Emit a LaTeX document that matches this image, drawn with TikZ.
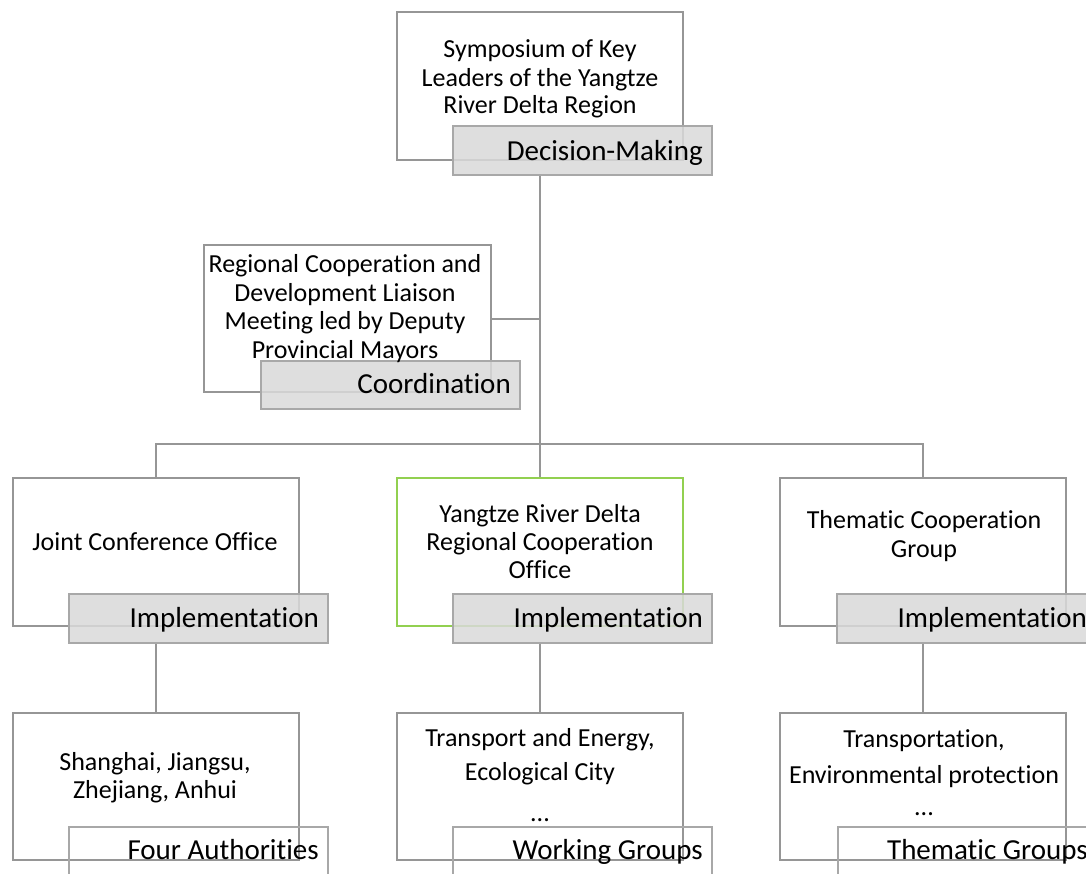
\documentclass[tikz,border=0pt]{standalone}
\usepackage{fontspec}
\setmainfont{Carlito}[Ligatures=NoCommon]
\definecolor{linegray}{RGB}{150,150,150}
\definecolor{taggray}{RGB}{168,168,168}
\definecolor{tagfill}{RGB}{217,217,217}
\definecolor{leafgreen}{RGB}{146,208,80}
\begin{document}
\begin{tikzpicture}[x=1pt,y=-1pt,
  box/.style={draw=linegray, line width=2pt, fill=white, inner sep=0pt,
    minimum width=286pt, minimum height=148pt},
  tag/.style={draw=taggray, line width=1.8pt, fill=tagfill, fill opacity=0.85,
    inner sep=0pt, minimum width=259pt, minimum height=49pt},
  opentag/.style={draw=taggray, line width=1.8pt, inner sep=0pt,
    minimum width=259pt, minimum height=49pt},
  txt/.style={font=\fontsize{26}{31}\selectfont, anchor=base, inner sep=0pt},
  tagtxt/.style={font=\fontsize{29}{34}\selectfont, anchor=base east, inner sep=0pt},
  link/.style={draw=linegray, line width=2pt}]
\useasboundingbox (0,0) rectangle (1086,873);
\clip (0,0) rectangle (1086,873);

% boxes
\node[box] (topbox) at (540,86) {};
\node[box, minimum width=287pt, minimum height=147pt] (coordbox) at (347.5,318.5) {};
\node[box] (leftbox) at (156,552) {};
\node[box, draw=leafgreen] (midbox) at (540,552) {};
\node[box] (rightbox) at (923,552) {};
\node[box, minimum height=147pt] (leftsub) at (156,786.5) {};
\node[box, minimum height=147pt] (midsub) at (540,786.5) {};
\node[box, minimum height=147pt] (rightsub) at (923,786.5) {};

% tags
\node[tag] (dectag) at (582.5,150.5) {};
\node[tag, minimum height=48pt] (coordtag) at (390.5,385) {};
\node[tag] (lefttag) at (198.5,618.5) {};
\node[tag] (midtag) at (582.5,618.5) {};
\node[tag] (righttag) at (966.5,618.5) {};
\node[opentag] (leftsubtag) at (198.5,851.5) {};
\node[opentag] (midsubtag) at (582.5,851.5) {};
\node[opentag] (rightsubtag) at (967.5,851.5) {};

% connectors
\coordinate (bar) at (540,444);
\draw[link] (topbox.south |- dectag.south) -- (midbox.north);
\draw[link] (coordbox.east) -- (coordbox.east -| topbox.south);
\draw[link] (leftbox.north) -- (leftbox.north |- bar) -| (rightbox.north);
\draw[link] (leftbox.south |- lefttag.south) -- (leftsub.north);
\draw[link] (midbox.south |- midtag.south) -- (midsub.north);
\draw[link] (rightbox.south |- righttag.south) -- (rightsub.north);

% box texts
\node[txt] (ta) at (540,57) {Symposium of Key};
\node[txt] (tb) at (540,86) {Leaders of the Yangtze};
\node[txt] (tc) at (540,113) {River Delta Region};

\node[txt] (ca) at (345,272) {Regional Cooperation and};
\node[txt] (cb) at (345,301) {Development Liaison};
\node[txt] (cc) at (345,329) {Meeting led by Deputy};
\node[txt] (cd) at (345,358) {Provincial Mayors};

\node[txt] (la) at (155,550) {Joint Conference Office};

\node[txt] (ma) at (540,522) {Yangtze River Delta};
\node[txt] (mb) at (540,550) {Regional Cooperation};
\node[txt] (mc) at (540,578) {Office};

\node[txt] (ra) at (924,528) {Thematic Cooperation};
\node[txt] (rb) at (924,557) {Group};

\node[txt] (lsa) at (155,770) {Shanghai, Jiangsu,};
\node[txt] (lsb) at (155,798) {Zhejiang, Anhui};

\node[txt] (msa) at (540,746) {Transport and Energy,};
\node[txt] (msb) at (540,780) {Ecological City};
\node[txt] (msc) at (540,821) {...};

\node[txt] (rsa) at (924,747) {Transportation,};
\node[txt] (rsb) at (924,783) {Environmental protection};
\node[txt] (rsc) at (924,815) {...};

% tag texts
\node[tagtxt] (dectxt) at (703,160) {Decision-Making};
\node[tagtxt] (coordtxt) at (511,393) {Coordination};
\node[tagtxt] (lefttxt) at (319,627) {Implementation};
\node[tagtxt] (midtxt) at (703,627) {Implementation};
\node[tagtxt] (righttxt) at (1087,627) {Implementation};
\node[tagtxt] (leftsubtxt) at (319,859) {Four Authorities};
\node[tagtxt] (midsubtxt) at (703,859) {Working Groups};
\node[tagtxt] (rightsubtxt) at (1088,859) {Thematic Groups};
\end{tikzpicture}
\end{document}
